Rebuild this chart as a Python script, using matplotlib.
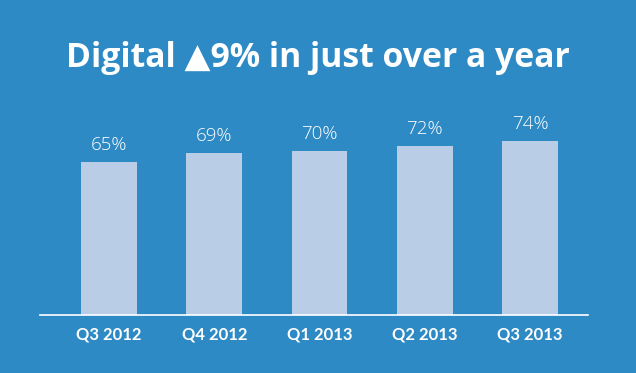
import matplotlib
matplotlib.use("Agg")
import matplotlib.pyplot as plt

categories = ["Q3 2012", "Q4 2012", "Q1 2013", "Q2 2013", "Q3 2013"]
values = [65, 69, 70, 72, 74]
value_labels = ["65%", "69%", "70%", "72%", "74%"]
title = "Digital \u25B29% in just over a year"

BG = "#2E8AC4"
BAR = "#BACDE6"

fig = plt.figure(figsize=(6.36, 3.73), dpi=100, facecolor=BG)
W, H = 636, 373
left, right = 40, 588
base, top = 315, 127
ax = fig.add_axes([left / W, (H - base) / H, (right - left) / W, (base - top) / H])
ax.set_facecolor(BG)
x = list(range(len(categories)))
ax.bar(x, values, width=0.53, color=BAR, zorder=2)
ax.set_xlim(-0.656, 4.551)
ax.set_ylim(0, 80)
for s in ["top", "right", "left"]:
    ax.spines[s].set_visible(False)
ax.spines["bottom"].set_color("white")
ax.spines["bottom"].set_linewidth(1.2)
ax.set_yticks([])
ax.set_xticks(x)
ax.set_xticklabels(categories, fontsize=12, fontweight="bold", color="white",
                   family=["Lato", "DejaVu Sans"])
ax.tick_params(axis="x", length=0, pad=8)
for xi, v, lab in zip(x, values, value_labels):
    ax.text(xi, v + 3.3, lab, ha="center", va="bottom", fontsize=13.5,
            color="white", family=["Open Sans", "DejaVu Sans"], fontweight="light")

fig.text(0.5, 1 - 58 / H, title, ha="center", va="center", fontsize=24.3,
         fontweight="bold", color="white", family=["Open Sans", "DejaVu Sans"])

fig.savefig("out.png", dpi=100, facecolor=BG)
